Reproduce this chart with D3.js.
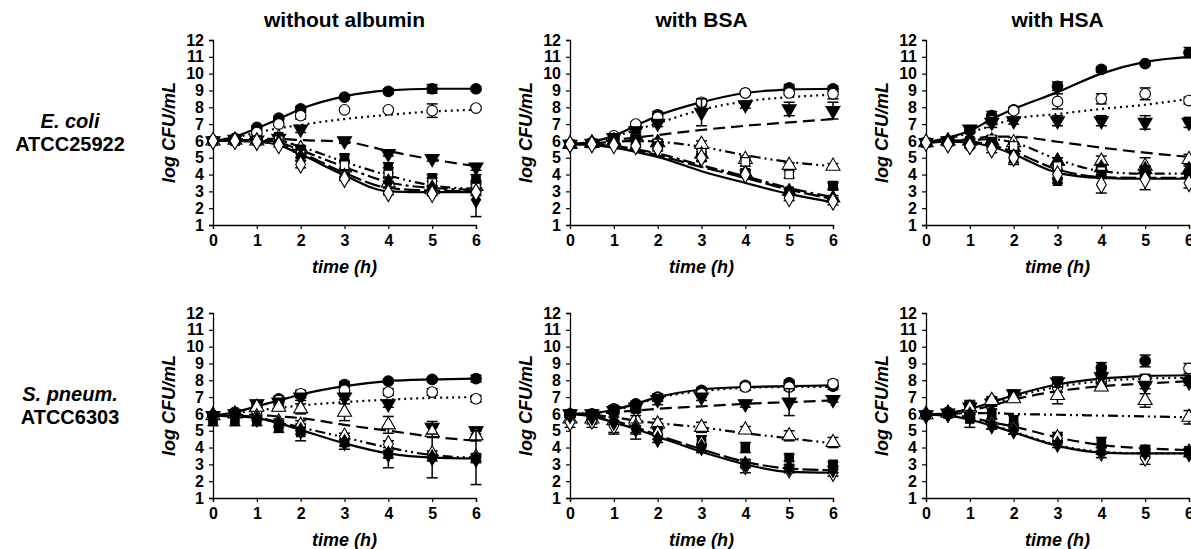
<!DOCTYPE html>
<html>
<head>
<meta charset="utf-8">
<script src="https://cdn.jsdelivr.net/npm/d3@7"></script>
<style>
  body { margin: 0; background: #fff; }
  text { font-family: "Liberation Sans", Arial, sans-serif; font-weight: bold; fill: #000; }
</style>
</head>
<body>
<svg width="1191" height="549"></svg>
<script>
// sampling times (h)
var times = [0, 0.5, 1, 1.5, 2, 3, 4, 5, 6];
var xTicks = [0, 1, 2, 3, 4, 5, 6];
var yTicks = [1, 2, 3, 4, 5, 6, 7, 8, 9, 10, 11, 12];
var colTitles = ['without albumin', 'with BSA', 'with HSA'];
var rowLabels = [['E. coli', 'ATCC25922'], ['S. pneum.', 'ATCC6303']];

// fitted curves, log CFU/mL at each time
var ecNoneFits = [
  { style: 'solid', v: [6, 6.25, 6.75, 7.3, 7.9, 8.65, 9.0, 9.1, 9.1] },
  { style: 'dotted', v: [6, 6.2, 6.5, 6.75, 6.95, 7.3, 7.55, 7.75, 7.85] },
  { style: 'dashed', v: [6, 6.08, 6.12, 6.12, 6.05, 5.95, 5.4, 4.9, 4.5] },
  { style: 'dashdotdot', v: [6, 6.05, 6.05, 6.0, 5.65, 4.75, 3.95, 3.35, 3.15] },
  { style: 'dashdot', v: [6, 6.0, 6.0, 5.9, 5.45, 4.45, 3.55, 3.2, 3.1] },
  { style: 'longdash', v: [6, 6, 5.95, 5.8, 5.3, 4.1, 3.2, 3.05, 3.0] },
  { style: 'solid', v: [6, 6.0, 5.95, 5.75, 5.2, 3.95, 3.0, 2.95, 2.95] }
];
var ecBsaFits = [
  { style: 'solid', v: [5.8, 5.95, 6.3, 6.9, 7.5, 8.3, 8.85, 9.05, 9.1] },
  { style: 'dotted', v: [5.8, 5.95, 6.25, 6.65, 7.05, 7.85, 8.35, 8.6, 8.75] },
  { style: 'dashed', v: [5.8, 5.9, 6.05, 6.2, 6.35, 6.65, 6.9, 7.1, 7.3] },
  { style: 'dashdotdot', v: [5.8, 5.85, 5.95, 6.0, 5.95, 5.65, 5.15, 4.75, 4.5] },
  { style: 'dashdot', v: [5.8, 5.8, 5.7, 5.5, 5.25, 4.55, 3.9, 3.2, 2.65] },
  { style: 'longdash', v: [5.8, 5.8, 5.65, 5.45, 5.15, 4.45, 3.8, 3.1, 2.55] },
  { style: 'solid', v: [5.8, 5.75, 5.6, 5.35, 5.05, 4.2, 3.5, 2.85, 2.35] }
];
var ecHsaFits = [
  { style: 'solid', v: [5.9, 6.2, 6.6, 7.3, 7.9, 8.9, 10.0, 10.7, 11.0] },
  { style: 'dotted', v: [5.9, 6.1, 6.5, 6.9, 7.3, 7.6, 7.9, 8.15, 8.5] },
  { style: 'dashed', v: [5.9, 6.0, 6.1, 6.25, 6.25, 5.95, 5.6, 5.3, 5.05] },
  { style: 'dashdotdot', v: [5.9, 6.0, 6.05, 6.1, 5.9, 4.9, 4.2, 4.05, 4.05] },
  { style: 'longdash', v: [5.9, 5.95, 5.95, 5.75, 5.35, 4.3, 3.85, 3.8, 3.8] },
  { style: 'solid', v: [5.9, 5.95, 5.9, 5.65, 5.2, 4.1, 3.8, 3.75, 3.75] }
];
var spNoneFits = [
  { style: 'solid', v: [5.9, 6.1, 6.45, 6.8, 7.15, 7.65, 7.95, 8.05, 8.1] },
  { style: 'dotted', v: [5.9, 6.05, 6.2, 6.35, 6.5, 6.7, 6.85, 6.95, 7.0] },
  { style: 'dashed', v: [5.9, 5.95, 5.95, 5.85, 5.75, 5.35, 5.0, 4.65, 4.4] },
  { style: 'dashdotdot', v: [5.9, 5.9, 5.8, 5.5, 5.2, 4.6, 4.0, 3.55, 3.4] },
  { style: 'solid', v: [5.9, 5.85, 5.75, 5.45, 5.05, 4.25, 3.65, 3.4, 3.35] }
];
var spBsaFits = [
  { style: 'solid', v: [6.0, 6.05, 6.25, 6.6, 7.0, 7.45, 7.6, 7.65, 7.7] },
  { style: 'dotted', v: [6.0, 6.05, 6.2, 6.55, 6.95, 7.35, 7.55, 7.6, 7.6] },
  { style: 'dashed', v: [6.0, 6.0, 6.1, 6.2, 6.3, 6.45, 6.6, 6.7, 6.8] },
  { style: 'dashdotdot', v: [6.0, 5.95, 5.8, 5.6, 5.45, 5.2, 4.85, 4.55, 4.25] },
  { style: 'longdash', v: [6.0, 5.9, 5.6, 5.2, 4.75, 3.9, 3.15, 2.75, 2.65] },
  { style: 'solid', v: [6.0, 5.85, 5.5, 5.1, 4.65, 3.75, 3.0, 2.55, 2.5] }
];
var spHsaFits = [
  { style: 'solid', v: [5.95, 6.05, 6.3, 6.7, 7.1, 7.75, 8.1, 8.25, 8.3] },
  { style: 'dotted', v: [5.95, 6.05, 6.25, 6.6, 7.0, 7.6, 7.95, 8.1, 8.15] },
  { style: 'dashed', v: [5.95, 6.05, 6.2, 6.5, 6.85, 7.35, 7.65, 7.8, 7.95] },
  { style: 'dashdotdot', v: [5.95, 6.0, 6.05, 6.05, 6.0, 5.95, 5.9, 5.85, 5.8] },
  { style: 'dashed', v: [5.95, 5.95, 5.8, 5.5, 5.25, 4.6, 4.15, 3.95, 3.85] },
  { style: 'dotted', v: [5.95, 5.9, 5.7, 5.35, 4.95, 4.15, 3.75, 3.65, 3.65] },
  { style: 'solid', v: [5.95, 5.9, 5.65, 5.3, 4.9, 4.1, 3.7, 3.65, 3.65] }
];

// observed means and errors
var ecNonePoints = [
  { shape: 'circle', v: [6, 6.15, 6.8, 7.35, 7.9, 8.6, 8.95, 9.1, 9.1], e: [.1, .1, .1, .1, .15, .1, .15, .25, .1] },
  { shape: 'circleOpen', v: [6, 6.1, 6.5, 7.0, 7.5, 7.85, 7.85, 7.8, 7.95], e: [.1, .1, .1, .1, .2, .1, .1, .4, .1] },
  { shape: 'triDown', v: [6, 6.1, 6.05, 6.15, 6.7, 6.0, 5.25, 4.95, 4.45], e: [.1, .1, .1, .1, .2, .15, .15, .15, .2] },
  { shape: 'triUpOpen', v: [6, 6.05, 6.0, 6.2, 5.55, 4.4, 3.5, 3.1, 3.3], e: [.1, .1, .1, .1, .15, .3, .3, .2, .3] },
  { shape: 'square', v: [6, 6.0, 6.05, 6.25, 5.5, 5.0, 4.4, 3.8, 3.7], e: [.1, .1, .1, .1, .15, .2, .3, .2, .3] },
  { shape: 'squareOpen', v: [6, 6, 6, 6.05, 5.2, 4.55, 4.0, 3.5, 3.25], e: [.1, .1, .1, .1, .2, .3, .4, .3, .4] },
  { shape: 'diamond', v: [6, 6, 5.95, 5.9, 5.05, 3.9, 3.55, 3.2, 2.5], e: [.1, .1, .1, .1, .2, .15, .3, .15, 1.0] },
  { shape: 'diamondOpen', v: [6, 6, 5.95, 5.75, 4.6, 3.75, 2.9, 2.85, 2.95], e: [.1, .1, .1, .1, .2, .1, .1, .1, .2] }
];
var ecBsaPoints = [
  { shape: 'circle', v: [5.8, 5.9, 6.25, 6.95, 7.55, 8.2, 8.85, 9.15, 9.1], e: [.1, .1, .1, .1, .2, .1, .1, .2, .15] },
  { shape: 'circleOpen', v: [5.8, 5.85, 6.3, 7.0, 7.4, 8.3, 8.85, 8.85, 8.8], e: [.1, .1, .1, .1, .2, .1, .1, .1, .3] },
  { shape: 'triDown', v: [5.8, 5.85, 6.2, 6.6, 7.05, 7.7, 8.15, 7.9, 7.8], e: [.1, .1, .1, .1, .2, .8, .2, .4, .5] },
  { shape: 'triUpOpen', v: [5.8, 5.85, 6.0, 6.2, 5.9, 5.8, 4.9, 4.55, 4.5], e: [.1, .1, .1, .1, .2, .2, .2, .15, .15] },
  { shape: 'triUp', v: [5.8, 5.9, 6.0, 6.3, 5.9, 5.2, 4.1, 3.0, 2.6], e: [.1, .1, .1, .1, .1, .15, .15, .15, .15] },
  { shape: 'squareOpen', v: [5.8, 5.85, 6.0, 6.15, 5.85, 5.3, 4.75, 4.0, 3.3], e: [.1, .1, .1, .1, .15, .2, .25, .2, .2] },
  { shape: 'square', v: [5.8, 5.85, 5.95, 6.1, 5.7, 5.0, 4.1, 3.0, 3.35], e: [.1, .1, .1, .1, .15, .2, .2, .15, .2] },
  { shape: 'diamondOpen', v: [5.8, 5.8, 5.75, 5.7, 5.55, 5.0, 4.0, 2.6, 2.4], e: [.1, .1, .1, .1, .15, .2, .15, .15, .2] }
];
var ecHsaPoints = [
  { shape: 'circle', v: [5.9, 6.0, 6.6, 7.5, 7.85, 9.25, 10.25, 10.6, 11.25], e: [.1, .1, .15, .25, .15, .25, .15, .1, .3] },
  { shape: 'circleOpen', v: [5.9, 5.9, 5.7, 7.2, 7.8, 8.35, 8.5, 8.8, 8.4], e: [.1, .1, .1, .2, .15, .45, .3, .35, .2] },
  { shape: 'triDown', v: [5.9, 6.0, 6.7, 7.1, 7.2, 7.2, 7.2, 7.1, 7.1], e: [.1, .1, .2, .3, .2, .3, .3, .4, .3] },
  { shape: 'triUpOpen', v: [5.9, 6.0, 6.0, 6.0, 5.9, 4.8, 4.8, 4.5, 4.9], e: [.1, .1, .15, .3, .3, .2, .3, .5, .3] },
  { shape: 'triUp', v: [5.9, 6.0, 6.0, 6.0, 5.6, 4.8, 4.4, 4.3, 4.3], e: [.1, .1, .1, .1, .2, .2, .2, .2, .2] },
  { shape: 'squareOpen', v: [5.9, 6, 5.9, 6.1, 5.7, 4.5, 4.2, 4.2, 4.0], e: [.1, .1, .1, .2, .2, .2, .2, .3, .2] },
  { shape: 'square', v: [5.9, 6.0, 6.0, 5.9, 5.0, 3.6, 4.0, 4.1, 4.0], e: [.1, .1, .1, .3, .4, .1, .2, .3, .2] },
  { shape: 'diamondOpen', v: [5.9, 5.8, 5.7, 5.5, 5.0, 4.0, 3.4, 3.7, 3.5], e: [.1, .1, .1, .2, .3, .2, .5, .6, .3] }
];
var spNonePoints = [
  { shape: 'circle', v: [5.9, 6.1, 6.4, 6.9, 7.15, 7.75, 7.95, 8.05, 8.1], e: [.15, .15, .2, .15, .2, .15, .1, .1, .2] },
  { shape: 'circleOpen', v: [5.9, 6.0, 6.2, 6.8, 7.2, 7.4, 7.3, 7.3, 6.9], e: [.1, .1, .2, .15, .2, .1, .2, .2, .2] },
  { shape: 'triDown', v: [5.9, 6.0, 6.6, 6.7, 7.0, 7.0, 6.6, 5.2, 5.0], e: [.1, .1, .2, .2, .2, .15, .2, .35, .2] },
  { shape: 'triUpOpen', v: [5.9, 6.0, 6.4, 6.4, 6.3, 6.1, 5.35, 4.9, 4.7], e: [.1, .1, .2, .2, .3, .5, .5, .3, .3] },
  { shape: 'square', v: [5.6, 5.6, 5.6, 5.2, 4.9, 4.3, 3.6, 3.5, 3.4], e: [.3, .3, .3, .3, .5, .4, .8, 1.3, 1.6] },
  { shape: 'diamondOpen', v: [5.9, 5.9, 5.8, 5.5, 5.3, 4.65, 4.2, 3.6, 3.4], e: [.1, .1, .1, .2, .3, .2, .2, .2, .2] },
  { shape: 'diamond', v: [5.9, 5.9, 5.7, 5.4, 5.0, 4.3, 3.6, 3.4, 3.3], e: [.1, .1, .1, .2, .2, .2, .2, .2, .2] }
];
var spBsaPoints = [
  { shape: 'circle', v: [6.0, 6.0, 6.3, 6.6, 7.0, 7.4, 7.7, 7.85, 7.65], e: [.1, .1, .2, .15, .2, .15, .15, .15, .2] },
  { shape: 'circleOpen', v: [5.9, 5.9, 6.1, 6.3, 6.95, 7.2, 7.6, 7.6, 7.8], e: [.1, .1, .1, .15, .2, .2, .2, .2, .2] },
  { shape: 'triDown', v: [6.0, 6.0, 6.2, 6.4, 6.85, 7.0, 6.6, 6.7, 6.85], e: [.1, .1, .1, .2, .3, .2, .2, .8, .15] },
  { shape: 'triUpOpen', v: [5.7, 5.7, 5.6, 5.7, 5.4, 5.2, 5.05, 4.7, 4.3], e: [.2, .3, .7, .9, .3, .3, .2, .3, .3] },
  { shape: 'square', v: [6.0, 6.0, 6.1, 6.3, 5.0, 4.4, 4.0, 3.4, 3.0], e: [.1, .1, .1, .2, .2, .3, .3, .2, .15] },
  { shape: 'diamondOpen', v: [5.5, 5.6, 5.3, 5.2, 4.8, 4.2, 2.9, 2.7, 2.5], e: [.3, .4, .5, .7, .3, .5, .4, .2, .2] },
  { shape: 'diamond', v: [5.9, 5.8, 5.5, 5.1, 4.5, 4.0, 3.0, 2.8, 2.7], e: [.1, .1, .1, .2, .2, .2, .2, .2, .2] }
];
var spHsaPoints = [
  { shape: 'circle', v: [5.95, 6.05, 6.3, 6.8, 7.1, 7.7, 8.75, 9.15, 8.0], e: [.1, .1, .2, .2, .15, .2, .3, .35, .15] },
  { shape: 'circleOpen', v: [5.95, 6.1, 6.4, 6.7, 7.0, 7.6, 7.9, 8.05, 8.7], e: [.1, .1, .3, .2, .2, .3, .3, .3, .3] },
  { shape: 'triDown', v: [5.95, 6.05, 6.4, 6.65, 7.2, 7.9, 8.2, 7.7, 7.9], e: [.1, .1, .4, .2, .2, .3, .3, .2, .2] },
  { shape: 'triUpOpen', v: [5.95, 6.05, 6.35, 6.8, 6.9, 7.1, 7.6, 6.8, 5.8], e: [.1, .1, .35, .2, .2, .5, .2, .4, .4] },
  { shape: 'square', v: [5.95, 6.0, 5.7, 6.0, 5.6, 4.6, 4.3, 3.9, 3.8], e: [.1, .1, .5, .3, .3, .3, .3, .2, .15] },
  { shape: 'diamondOpen', v: [5.95, 6.0, 5.9, 5.4, 5.1, 4.55, 3.7, 3.4, 3.7], e: [.1, .1, .1, .3, .3, .2, .3, .4, .2] },
  { shape: 'diamond', v: [5.95, 6.0, 5.85, 5.3, 5.0, 4.2, 3.8, 3.7, 3.65], e: [.1, .1, .1, .2, .2, .2, .2, .2, .2] }
];

var panels = [
  { row: 0, col: 0, fits: ecNoneFits, points: ecNonePoints },
  { row: 0, col: 1, fits: ecBsaFits, points: ecBsaPoints },
  { row: 0, col: 2, fits: ecHsaFits, points: ecHsaPoints },
  { row: 1, col: 0, fits: spNoneFits, points: spNonePoints },
  { row: 1, col: 1, fits: spBsaFits, points: spBsaPoints },
  { row: 1, col: 2, fits: spHsaFits, points: spHsaPoints }
];

var svg = d3.select('svg');
var colLeft = [213, 570, 926],
  rowTop = [40, 313],
  plotW = 263,
  plotH = 185;

var dashes = {
  solid: null,
  dotted: '2,4',
  dashed: '12,6',
  dashdotdot: '10,4,2,4,2,4',
  dashdot: '12,4,3,4',
  longdash: '16,4'
};

var symbols = {
  circle: { type: d3.symbolCircle, fill: '#000', rot: 0, size: 88 },
  circleOpen: { type: d3.symbolCircle, fill: '#fff', rot: 0, size: 88 },
  triDown: { type: d3.symbolTriangle, fill: '#000', rot: 180, size: 85 },
  triUp: { type: d3.symbolTriangle, fill: '#000', rot: 0, size: 80 },
  triUpOpen: { type: d3.symbolTriangle, fill: '#fff', rot: 0, size: 85 },
  square: { type: d3.symbolSquare, fill: '#000', rot: 0, size: 72 },
  squareOpen: { type: d3.symbolSquare, fill: '#fff', rot: 0, size: 72 },
  diamond: { type: d3.symbolDiamond, fill: '#000', rot: 0, size: 72 },
  diamondOpen: { type: d3.symbolDiamond, fill: '#fff', rot: 0, size: 85 }
};

// column titles
svg
  .selectAll('text.coltitle')
  .data(colTitles)
  .enter()
  .append('text')
  .attr('class', 'coltitle')
  .attr('x', function (d, i) {
    return colLeft[i] + plotW / 2;
  })
  .attr('y', 27)
  .attr('text-anchor', 'middle')
  .style('font-size', '21px')
  .text(function (d) {
    return d;
  });

// row labels
rowLabels.forEach(function (r, i) {
  var cy = rowTop[i] + plotH / 2;
  svg
    .append('text')
    .attr('x', 70)
    .attr('y', cy - 5)
    .attr('text-anchor', 'middle')
    .style('font-size', '20px')
    .style('font-style', 'italic')
    .text(r[0]);
  svg
    .append('text')
    .attr('x', 70)
    .attr('y', cy + 18)
    .attr('text-anchor', 'middle')
    .style('font-size', '20px')
    .text(r[1]);
});

panels.forEach(function (p) {
  var left = colLeft[p.col],
    top = rowTop[p.row];
  var x = d3.scaleLinear().domain([0, 6]).range([left, left + plotW]);
  var y = d3.scaleLinear().domain([1, 12]).range([top + plotH, top]);
  var g = svg.append('g');

  var yAxis = g
    .append('g')
    .attr('transform', 'translate(' + left + ',0)')
    .call(d3.axisLeft(y).tickValues(yTicks).tickSize(4).tickPadding(5).tickFormat(d3.format('d')));
  var xAxis = g
    .append('g')
    .attr('transform', 'translate(0,' + (top + plotH) + ')')
    .call(d3.axisBottom(x).tickValues(xTicks).tickSize(4).tickPadding(6).tickFormat(d3.format('d')));
  [xAxis, yAxis].forEach(function (a) {
    a.select('.domain').attr('stroke', '#000').attr('stroke-width', 1.3);
    a.selectAll('.tick line').attr('stroke', '#000').attr('stroke-width', 1.2);
    a.selectAll('.tick text')
      .style('font-family', '"Liberation Sans", Arial, sans-serif')
      .style('font-weight', 'bold')
      .style('font-size', '16px')
      .attr('fill', '#000');
  });

  g.append('text')
    .attr('x', left + plotW / 2)
    .attr('y', top + plotH + 48)
    .attr('text-anchor', 'middle')
    .style('font-size', '18px')
    .style('font-style', 'italic')
    .text('time (h)');

  g.append('text')
    .attr('transform', 'translate(' + (left - 38) + ',' + (top + plotH / 2) + ') rotate(-90)')
    .attr('text-anchor', 'middle')
    .style('font-size', '18px')
    .style('font-style', 'italic')
    .text('log CFU/mL');

  var line = d3
    .line()
    .x(function (d, i) {
      return x(times[i]);
    })
    .y(function (d) {
      return y(d);
    })
    .curve(d3.curveMonotoneX);

  g.selectAll('path.fit')
    .data(p.fits)
    .enter()
    .append('path')
    .attr('class', 'fit')
    .attr('d', function (d) {
      return line(d.v);
    })
    .attr('fill', 'none')
    .attr('stroke', '#000')
    .attr('stroke-width', 2.2)
    .attr('stroke-dasharray', function (d) {
      return dashes[d.style];
    });

  p.points.forEach(function (s) {
    var sym = symbols[s.shape];
    var pts = s.v.map(function (v, i) {
      return { t: times[i], v: v, e: s.e[i] };
    });
    var eg = g.append('g').attr('stroke', '#000').attr('stroke-width', 1.5);
    pts.forEach(function (d) {
      var cx = x(d.t);
      eg.append('line').attr('x1', cx).attr('x2', cx).attr('y1', y(d.v - d.e)).attr('y2', y(d.v + d.e));
      eg.append('line').attr('x1', cx - 5.5).attr('x2', cx + 5.5).attr('y1', y(d.v - d.e)).attr('y2', y(d.v - d.e));
      eg.append('line').attr('x1', cx - 5.5).attr('x2', cx + 5.5).attr('y1', y(d.v + d.e)).attr('y2', y(d.v + d.e));
    });
    g.selectAll(null)
      .data(pts)
      .enter()
      .append('path')
      .attr('d', d3.symbol().type(sym.type).size(sym.size))
      .attr('transform', function (d) {
        return 'translate(' + x(d.t) + ',' + y(d.v) + ') rotate(' + sym.rot + ')';
      })
      .attr('fill', sym.fill)
      .attr('stroke', '#000')
      .attr('stroke-width', 1.1);
  });
});
</script>
</body>
</html>
